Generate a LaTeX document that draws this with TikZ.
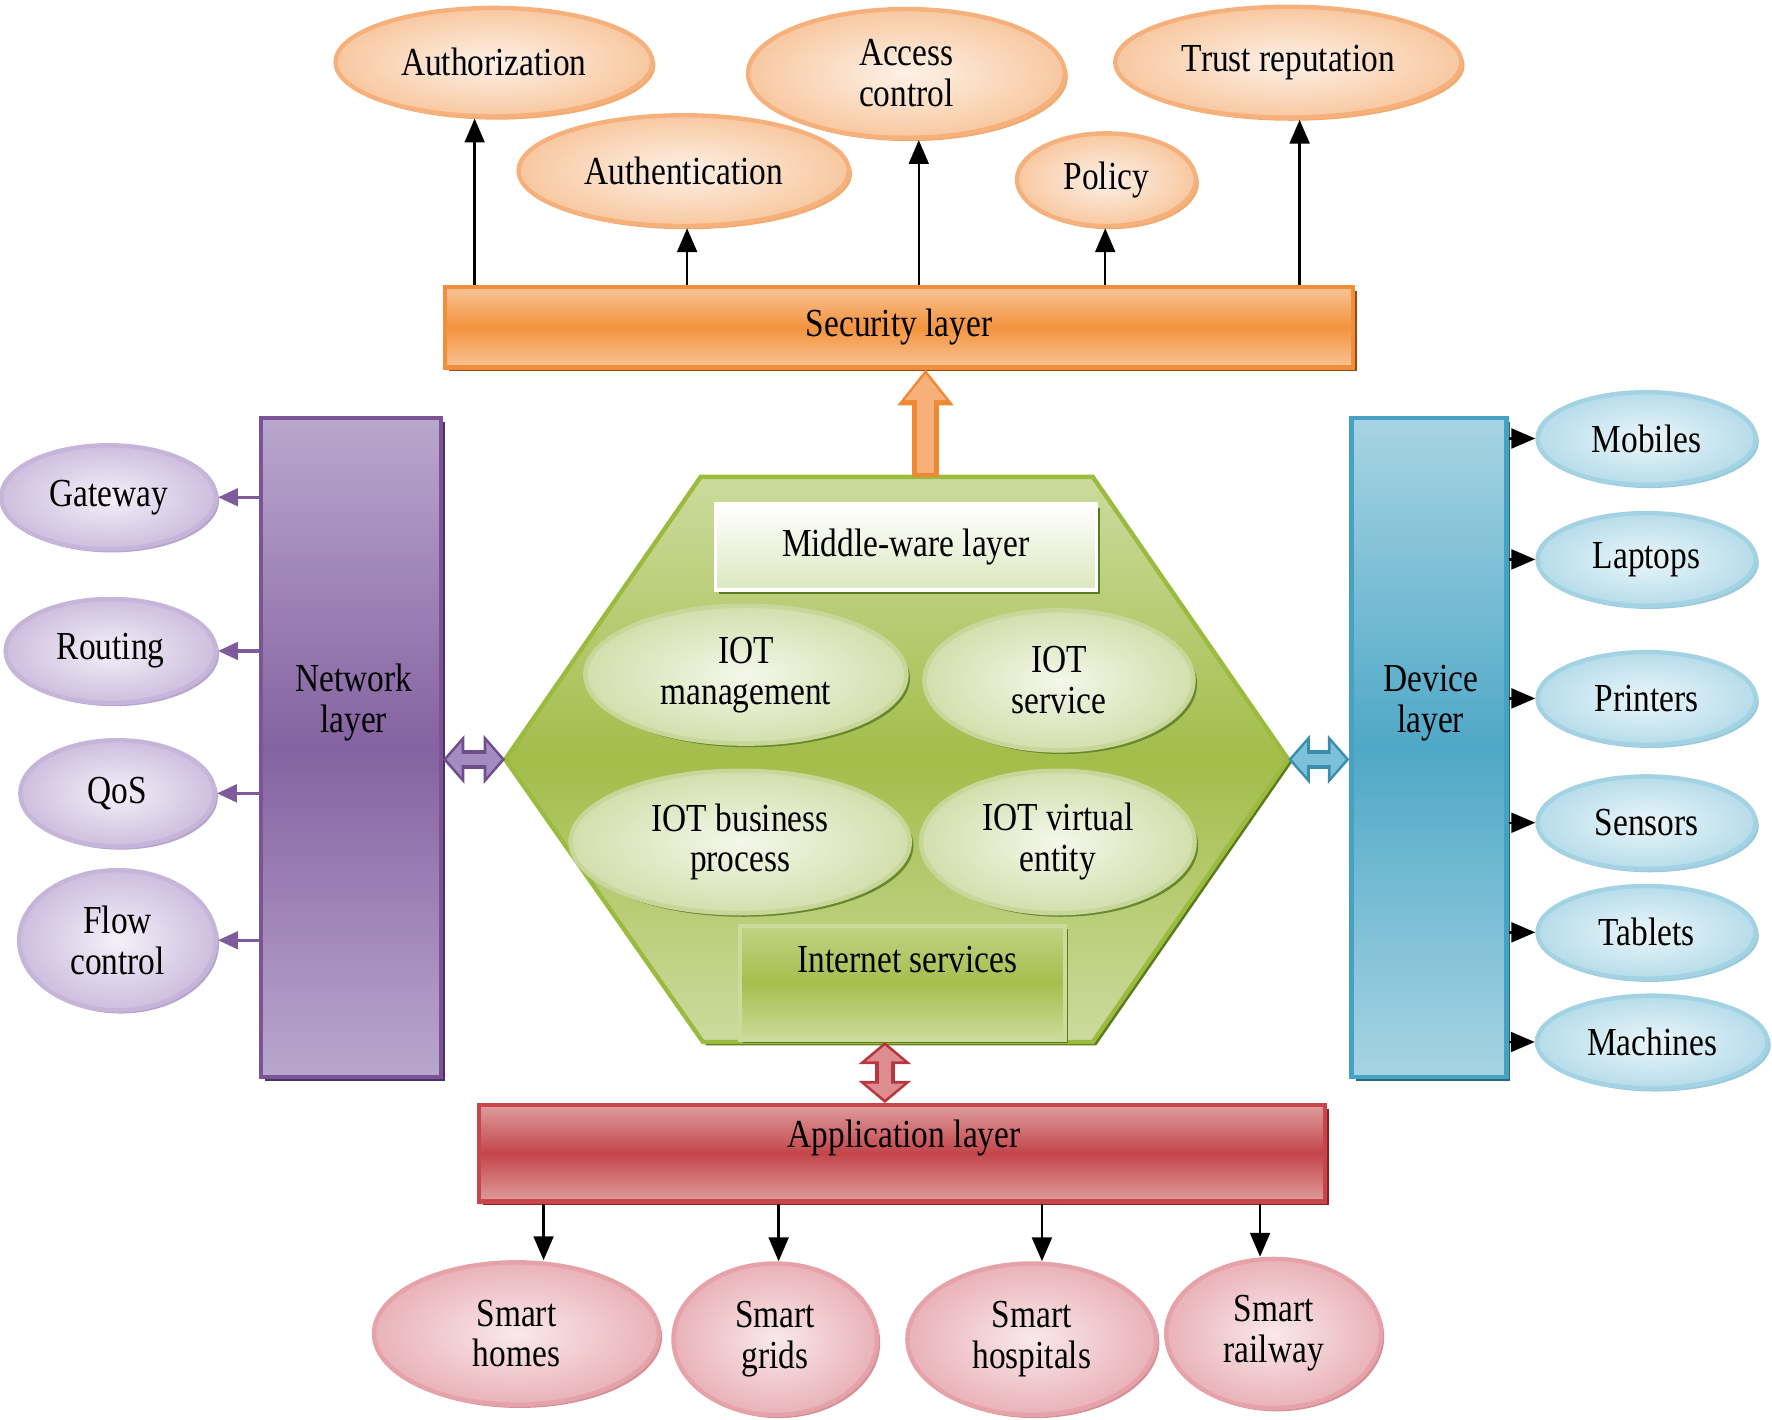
\documentclass[tikz,border=0pt]{standalone}
\usepackage{fontspec}
\setmainfont{Liberation Serif}[FakeStretch=0.84]
\usetikzlibrary{arrows.meta,shapes.geometric,shadows,calc}
\definecolor{ob}{HTML}{F5B07C}
\definecolor{oin}{HTML}{FDF1E7}
\definecolor{oout}{HTML}{F8C8A0}
\definecolor{osh}{HTML}{F2A96C}
\definecolor{secb}{HTML}{EF8F3C}
\definecolor{secl}{HTML}{F9C396}
\definecolor{secm}{HTML}{F2943E}
\definecolor{secsh}{HTML}{984817}
\definecolor{pb}{HTML}{C5B5D9}
\definecolor{pin}{HTML}{F4F0F8}
\definecolor{pout}{HTML}{CDBEDE}
\definecolor{psh}{HTML}{B7A4CD}
\definecolor{netb}{HTML}{7A5497}
\definecolor{netl}{HTML}{B9A7CE}
\definecolor{netm}{HTML}{8562A1}
\definecolor{netsh}{HTML}{4B3263}
\definecolor{parrc}{HTML}{7D5B9C}
\definecolor{bb}{HTML}{A3D2E3}
\definecolor{bin}{HTML}{EBF6FA}
\definecolor{bout}{HTML}{B6DCEA}
\definecolor{bsh}{HTML}{98C9DB}
\definecolor{devb}{HTML}{46A2C2}
\definecolor{devl}{HTML}{A7D4E3}
\definecolor{devm}{HTML}{4FA8C7}
\definecolor{devsh}{HTML}{2A687E}
\definecolor{hexl}{HTML}{CBDB9D}
\definecolor{hexm}{HTML}{A3BD4A}
\definecolor{hexb}{HTML}{9BBB3E}
\definecolor{hexsh}{HTML}{5B7A1E}
\definecolor{gin}{HTML}{F4F7EA}
\definecolor{gout}{HTML}{D2DFAC}
\definecolor{gb}{HTML}{C7D79A}
\definecolor{gsh}{HTML}{6A872D}
\definecolor{mwb}{HTML}{DCE7BF}
\definecolor{isl}{HTML}{CCDB9B}
\definecolor{ism}{HTML}{A5BF4E}
\definecolor{appb}{HTML}{C8464B}
\definecolor{appl}{HTML}{DE9C9E}
\definecolor{appm}{HTML}{C3454A}
\definecolor{appsh}{HTML}{8A2226}
\definecolor{rbd}{HTML}{E5A2A9}
\definecolor{rin}{HTML}{F9E8EB}
\definecolor{rout}{HTML}{E9B2B8}
\definecolor{rsh}{HTML}{D48F97}
\definecolor{oarrb}{HTML}{EE8A35}
\definecolor{oarrf}{HTML}{F7B07A}
\definecolor{parrb}{HTML}{6E4E8C}
\definecolor{parrf}{HTML}{A48BC0}
\definecolor{barrb}{HTML}{3A8DAD}
\definecolor{barrf}{HTML}{7DC1D9}
\definecolor{rarrb}{HTML}{B5383E}
\definecolor{rarrf}{HTML}{DD8D90}
\begin{document}
\begin{tikzpicture}[x=0.01cm,y=-0.01cm,
  every node/.style={font=\fontsize{10}{10.3}\selectfont, align=center, inner sep=0pt},
  ell/.style={ellipse, line width=1.1pt},
  oell/.style={ell, draw=ob, inner color=oin, outer color=oout,
    general shadow={fill=osh, shadow xshift=0.8pt, shadow yshift=-0.8pt}},
  pell/.style={ell, draw=pb, inner color=pin, outer color=pout,
    general shadow={fill=psh, shadow xshift=0.8pt, shadow yshift=-0.8pt}},
  bell/.style={ell, draw=bb, inner color=bin, outer color=bout,
    general shadow={fill=bsh, shadow xshift=0.8pt, shadow yshift=-0.8pt}},
  gell/.style={ell, draw=gb, inner color=gin, outer color=gout,
    general shadow={fill=gsh, shadow xshift=0.9pt, shadow yshift=-0.9pt}},
  rell/.style={ell, draw=rbd, inner color=rin, outer color=rout,
    general shadow={fill=rsh, shadow xshift=0.8pt, shadow yshift=-0.8pt}},
  bar/.style={rectangle, line width=1.1pt},
  blk/.style={-{Triangle[length=6pt,width=5pt]}, line width=0.6pt, draw=black},
  parr/.style={-{Triangle[length=5pt,width=4.4pt]}, line width=0.85pt, draw=parrc}
]
\useasboundingbox (0,0) rectangle (1568,1256);

% ---------- security ellipses ----------
\node[oell, minimum width=2.80cm, minimum height=0.96cm] (authz) at (437,55) {Authorization};
\node[oell, minimum width=2.92cm, minimum height=0.98cm] (authn) at (605,151) {Authentication};
\node[oell, minimum width=2.80cm, minimum height=1.14cm] (acc) at (802,65) {Access\\control};
\node[oell, minimum width=1.58cm, minimum height=0.82cm] (pol) at (979,159) {Policy};
\node[oell, minimum width=3.06cm, minimum height=0.98cm] (trust) at (1140,55) {Trust reputation};

% ---------- security layer ----------
\node[bar, draw=secb, top color=secl, bottom color=secl, middle color=secm,
  general shadow={fill=secsh, shadow xshift=1pt, shadow yshift=-1pt},
  minimum width=8.03cm, minimum height=0.71cm] (sec) at (795.5,289.5) {Security layer};

\draw[blk] (sec.north -| 420,0) -- (authz.south -| 420,0);
\draw[blk] (sec.north -| 608,0) -- (authn.south -| 608,0);
\draw[blk] (sec.north -| 813,0) -- (acc.south -| 813,0);
\draw[blk] (sec.north -| 978,0) -- (pol.south -| 978,0);
\draw[blk] (sec.north -| 1150,0) -- (trust.south -| 1150,0);

% ---------- network layer ----------
\node[bar, draw=netb, top color=netl, bottom color=netl, middle color=netm,
  general shadow={fill=netsh, shadow xshift=1pt, shadow yshift=-1pt},
  minimum width=1.59cm, minimum height=5.83cm] (net) at (310.5,661.5) {};
\node (nettxt) at (313,622) {Network\\layer};

\node[pell, minimum width=1.90cm, minimum height=0.92cm] (gw) at (96,440) {Gateway};
\node[pell, minimum width=1.86cm, minimum height=0.92cm] (rt) at (98,576) {Routing};
\node[pell, minimum width=1.72cm, minimum height=0.94cm] (qos) at (104,702) {QoS};
\node[pell, minimum width=1.74cm, minimum height=1.24cm] (fc) at (104,832) {Flow\\control};
\draw[parr] (net.west |- gw) -- (gw);
\draw[parr] (net.west |- rt) -- (rt);
\draw[parr] (net.west |- qos) -- (qos);
\draw[parr] (net.west |- fc) -- (fc);

% ---------- device layer ----------
\node[bar, draw=devb, top color=devl, bottom color=devl, middle color=devm,
  general shadow={fill=devsh, shadow xshift=1pt, shadow yshift=-1pt},
  minimum width=1.37cm, minimum height=5.83cm] (dev) at (1264.5,661.5) {};
\node (devtxt) at (1266,622) {Device\\layer};

\node[bell, minimum width=1.93cm, minimum height=0.82cm] (mob) at (1457,388) {Mobiles};
\node[bell, minimum width=1.93cm, minimum height=0.82cm] (lap) at (1457,495) {Laptops};
\node[bell, minimum width=1.93cm, minimum height=0.82cm] (pri) at (1457,618) {Printers};
\node[bell, minimum width=1.93cm, minimum height=0.82cm] (sen) at (1457,728) {Sensors};
\node[bell, minimum width=1.93cm, minimum height=0.82cm] (tab) at (1457,825) {Tablets};
\node[bell, minimum width=2.04cm, minimum height=0.82cm] (mac) at (1462,922) {Machines};
\foreach \n in {mob,lap,pri,sen,tab,mac}
  \draw[blk] (dev.east |- \n) -- (\n);

% ---------- middleware hexagon ----------
\coordinate (hL) at (447,672);
\coordinate (hTL) at (620,422);
\coordinate (hTR) at (967,422);
\coordinate (hR) at (1140,672);
\coordinate (hBR) at (967,922);
\coordinate (hBL) at (622,922);
\fill[hexsh] ([shift={(3,3)}]hL) -- ([shift={(3,3)}]hTL) -- ([shift={(3,3)}]hTR) -- ([shift={(3,3)}]hR)
  -- ([shift={(3,3)}]hBR) -- ([shift={(3,3)}]hBL) -- cycle;
\path[draw=hexb, line width=1.1pt, top color=hexl, bottom color=hexl, middle color=hexm]
  (hL) -- (hTL) -- (hTR) -- (hR) -- (hBR) -- (hBL) -- cycle;

\node[bar, draw=white, line width=0.8pt, top color=white, bottom color=mwb,
  general shadow={fill=hexsh, shadow xshift=0.9pt, shadow yshift=-0.9pt},
  minimum width=3.37cm, minimum height=0.76cm] (mw) at (801.5,484) {Middle-ware layer};

\node[gell, minimum width=2.84cm, minimum height=1.22cm] (mgmt) at (660,597) {IOT\\management};
\node[gell, minimum width=2.38cm, minimum height=1.24cm] (svc) at (937,602) {IOT\\service};
\node[gell, minimum width=3.00cm, minimum height=1.26cm] (bp) at (655,745) {IOT business\\process};
\node[gell, minimum width=2.42cm, minimum height=1.26cm] (ve) at (936,745) {IOT virtual\\entity};

\node[bar, draw=isl, line width=1pt, top color=isl!70!ism, bottom color=isl, middle color=ism,
  general shadow={fill=hexsh, shadow xshift=0.8pt, shadow yshift=-0.8pt},
  minimum width=2.87cm, minimum height=1.01cm] (is) at (798.5,869.5) {};
\node (istxt) at (803,849) {Internet services};

% ---------- application layer ----------
\node[bar, draw=appb, top color=appl, bottom color=appl, middle color=appm,
  general shadow={fill=appsh, shadow xshift=1pt, shadow yshift=-1pt},
  minimum width=7.48cm, minimum height=0.85cm] (app) at (798,1020.5) {};
\node (apptxt) at (800,1007) {Application layer};

\node[rell, minimum width=2.52cm, minimum height=1.26cm] (homes) at (457,1180) {Smart\\homes};
\node[rell, minimum width=1.80cm, minimum height=1.34cm] (grids) at (686,1185) {Smart\\grids};
\node[rell, minimum width=2.20cm, minimum height=1.34cm] (hosp) at (913,1185) {Smart\\hospitals};
\node[rell, minimum width=1.90cm, minimum height=1.32cm] (rail) at (1127,1180) {Smart\\railway};
\draw[blk] (app.south -| 481,0) -- (homes.north -| 481,0);
\draw[blk] (app.south -| 689,0) -- (grids.north -| 689,0);
\draw[blk] (app.south -| 922,0) -- (hosp.north -| 922,0);
\draw[blk] (app.south -| 1115,0) -- (rail.north -| 1115,0);

% ---------- block arrows ----------
\coordinate (ua) at (819,422);
\draw[line width=6.6pt, draw=oarrb, -{Triangle[length=9pt,width=13.5pt]}] (ua) -- (ua |- sec.south);
\draw[line width=4.4pt, draw=oarrf, -{Triangle[length=6.6pt,width=10pt]}, shorten >=1.1pt, shorten <=1pt]
  (ua) -- (ua |- sec.south);

\draw[line width=4.6pt, draw=parrb, {Triangle[length=5.4pt,width=12pt]}-{Triangle[length=5.4pt,width=12pt]}]
  (net.east |- hL) -- (hL);
\draw[line width=2.6pt, draw=parrf, {Triangle[length=3.8pt,width=8.6pt]}-{Triangle[length=3.8pt,width=8.6pt]},
  shorten >=0.9pt, shorten <=0.9pt] (net.east |- hL) -- (hL);

\draw[line width=4.6pt, draw=barrb, {Triangle[length=5.4pt,width=12pt]}-{Triangle[length=5.4pt,width=12pt]}]
  (hR) -- (dev.west |- hR);
\draw[line width=2.6pt, draw=barrf, {Triangle[length=3.8pt,width=8.6pt]}-{Triangle[length=3.8pt,width=8.6pt]},
  shorten >=0.9pt, shorten <=0.9pt] (hR) -- (dev.west |- hR);

\coordinate (rdA) at (783,922);
\draw[line width=5pt, draw=rarrb, {Triangle[length=5.6pt,width=13pt]}-{Triangle[length=5.6pt,width=13pt]}]
  (rdA) -- (rdA |- app.north);
\draw[line width=3pt, draw=rarrf, {Triangle[length=4pt,width=9.4pt]}-{Triangle[length=4pt,width=9.4pt]},
  shorten >=0.9pt, shorten <=0.9pt] (rdA) -- (rdA |- app.north);
\end{tikzpicture}
\end{document}
